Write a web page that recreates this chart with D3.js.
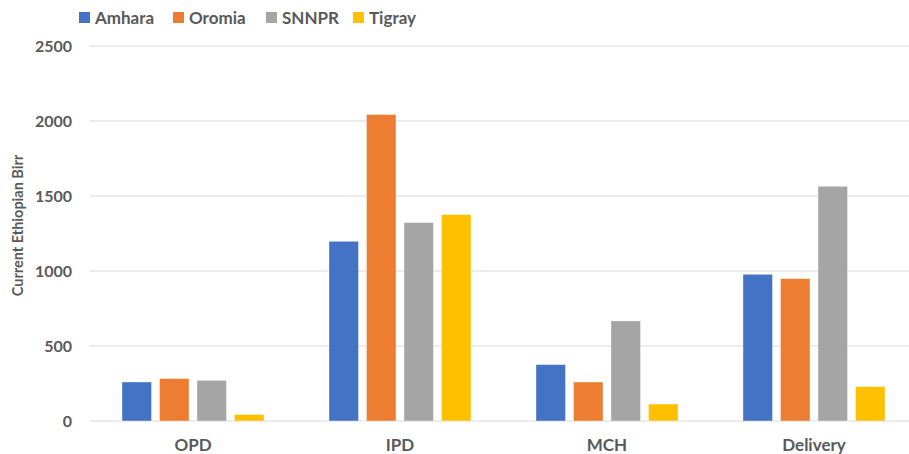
<!DOCTYPE html>
<html>
<head>
<meta charset="utf-8">
<script src="https://cdn.jsdelivr.net/npm/d3@7"></script>
<style>
    body { margin: 0; background: #fff; }
    svg { display: block; font-family: Lato, 'Open Sans', sans-serif; }
</style>
</head>
<body>
<svg id="chart" width="909" height="454"></svg>
<script>
// data
const categories = ['OPD', 'IPD', 'MCH', 'Delivery']
const seriesNames = ['Amhara', 'Oromia', 'SNNPR', 'Tigray']
const amhara = [260, 1198, 376, 978]
const oromia = [283, 2043, 260, 949]
const snnpr = [271, 1323, 667, 1565]
const tigray = [43, 1376, 113, 229]
const yTicks = [0, 500, 1000, 1500, 2000, 2500]

const colors = ['#4472C4', '#ED7D31', '#A5A5A5', '#FFC000']
const seriesValues = [amhara, oromia, snnpr, tigray]

const svg = d3.select('#chart')
const margin = { left: 89.5, right: -8.5, top: 46, bottom: 33 }
const width = 909, height = 454

let x0 = d3.scaleBand()
    .domain(categories)
    .range([margin.left, width - margin.right])
    .paddingInner(0.314)
    .paddingOuter(0.157)

let x1 = d3.scaleBand()
    .domain(seriesNames)
    .range([0, x0.bandwidth()])
    .paddingInner(0.213)

let y = d3.scaleLinear()
    .domain([0, 2500])
    .range([height - margin.bottom, margin.top])

// gridlines
svg.append('g')
    .selectAll('line')
    .data(yTicks)
    .join('line')
    .attr('x1', margin.left)
    .attr('x2', width)
    .attr('y1', d => y(d))
    .attr('y2', d => y(d))
    .attr('stroke', '#d9d9d9')
    .attr('stroke-width', 1)

// y tick labels
svg.append('g')
    .selectAll('text')
    .data(yTicks)
    .join('text')
    .attr('x', 72)
    .attr('y', d => y(d))
    .attr('dy', '0.35em')
    .attr('text-anchor', 'end')
    .attr('fill', '#595959')
    .style('font-size', '16px')
    .style('font-weight', 'bold')
    .text(d => d)

// bars
let groups = svg.append('g')
    .selectAll('g')
    .data(categories)
    .join('g')
    .attr('transform', d => 'translate(' + x0(d) + ',0)')

groups.selectAll('rect')
    .data((c, i) => seriesNames.map((s, j) => ({ s: s, v: seriesValues[j][i], color: colors[j] })))
    .join('rect')
    .attr('x', d => x1(d.s))
    .attr('width', x1.bandwidth())
    .attr('y', d => y(d.v))
    .attr('height', d => y(0) - y(d.v))
    .attr('fill', d => d.color)
    .attr('stroke', '#fff')
    .attr('stroke-opacity', 0.5)
    .attr('stroke-width', 0.75)

// category labels
svg.append('g')
    .selectAll('text')
    .data(categories)
    .join('text')
    .attr('x', d => x0(d) + x0.bandwidth() / 2)
    .attr('y', 445)
    .attr('dy', '0.35em')
    .attr('text-anchor', 'middle')
    .attr('fill', '#595959')
    .style('font-size', '17px')
    .style('font-weight', 'bold')
    .text(d => d)

// y axis title
svg.append('text')
    .attr('transform', 'translate(18,' + 225.5 + ') rotate(-90)')
    .attr('dy', '0.35em')
    .attr('text-anchor', 'middle')
    .attr('fill', '#595959')
    .style('font-size', '14.5px')
    .style('font-weight', 'bold')
    .text('Current Ethiopian Birr')

// legend
const legendX = [79, 173, 266, 353]
let legend = svg.append('g')
    .selectAll('g')
    .data(seriesNames)
    .join('g')
    .attr('transform', (d, i) => 'translate(' + legendX[i] + ',12)')

legend.append('rect')
    .attr('width', 11)
    .attr('height', 11)
    .attr('fill', (d, i) => colors[i])

legend.append('text')
    .attr('x', 16)
    .attr('y', 6)
    .attr('dy', '0.35em')
    .attr('fill', '#595959')
    .style('font-size', '17px')
    .style('font-weight', 'bold')
    .text(d => d)
</script>
</body>
</html>
